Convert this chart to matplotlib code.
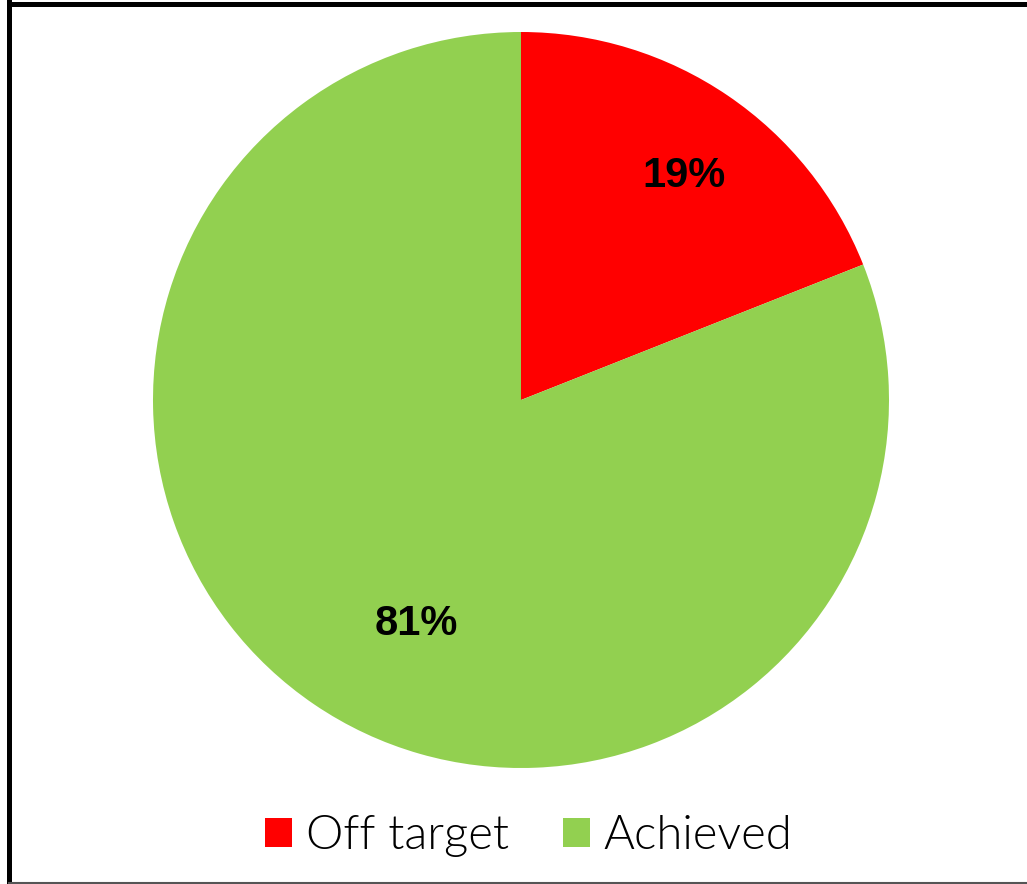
import numpy as np
import matplotlib
matplotlib.use('Agg')
import matplotlib.pyplot as plt
from matplotlib.lines import Line2D
from matplotlib import font_manager

# Share of targets
categories = ["Off target", "Achieved"]
shares = [19, 81]
colors = ["#FF0000", "#92D050"]

# Where each percentage label sits: (distance from centre, angle in degrees)
label_spots = [(0.753, 54.0), (0.672, -115.0)]

# Light Lato for the legend, if the light file is installed
lato_light = None
for f in font_manager.fontManager.ttflist:
    if f.fname.endswith('Lato-Light.ttf'):
        lato_light = f.fname
        break
if lato_light:
    legend_prop = font_manager.FontProperties(fname=lato_light, size=34)
else:
    legend_prop = font_manager.FontProperties(family='Lato', weight='light', size=34)

W, H = 1027, 884
fig = plt.figure(figsize=(W / 100, H / 100), dpi=100)
fig.patch.set_facecolor('white')

# Pie area: centre (521, 400) px, radius 368 px
cx, cy, r = 521, 400, 368
ax = fig.add_axes([(cx - r) / W, (H - cy - r) / H, 2 * r / W, 2 * r / H])

wedges, texts, autotexts = ax.pie(
    shares, colors=colors, startangle=90, counterclock=False,
    autopct='%1.0f%%', labels=None,
    wedgeprops=dict(linewidth=0),
    textprops=dict(family=['Liberation Sans', 'DejaVu Sans'], fontweight='bold',
                   fontsize=30, color='black'))
ax.set_xlim(-1, 1)
ax.set_ylim(-1, 1)
ax.set_aspect('equal')

for t, (dist, ang) in zip(autotexts, label_spots):
    a = np.deg2rad(ang)
    t.set_position((dist * np.cos(a), dist * np.sin(a)))
    t.set_ha('center')
    t.set_va('center')

leg = ax.legend(wedges, categories, ncol=2, frameon=False, loc='center',
                bbox_to_anchor=(529 / W, 1 - 836 / H), bbox_transform=fig.transFigure,
                prop=legend_prop,
                handlelength=0.56, handleheight=0.56, handletextpad=0.3,
                columnspacing=1.15, borderpad=0)
for txt in leg.get_texts():
    txt.set_color('black')

# Chart border: thick black left and top edges, thin grey bottom edge
lw = 5 * 72 / 100
fig.add_artist(Line2D([9 / W, 9 / W], [0, 1 - 2 / H], transform=fig.transFigure,
                      color='black', linewidth=lw, solid_capstyle='projecting'))
fig.add_artist(Line2D([9 / W, 1.0], [1 - 4 / H, 1 - 4 / H], transform=fig.transFigure,
                      color='black', linewidth=lw, solid_capstyle='projecting'))
fig.add_artist(Line2D([9 / W, 1.0], [1.5 / H, 1.5 / H], transform=fig.transFigure,
                      color='#555555', linewidth=1.5))

fig.savefig('out.png', dpi=100)
plt.close(fig)
